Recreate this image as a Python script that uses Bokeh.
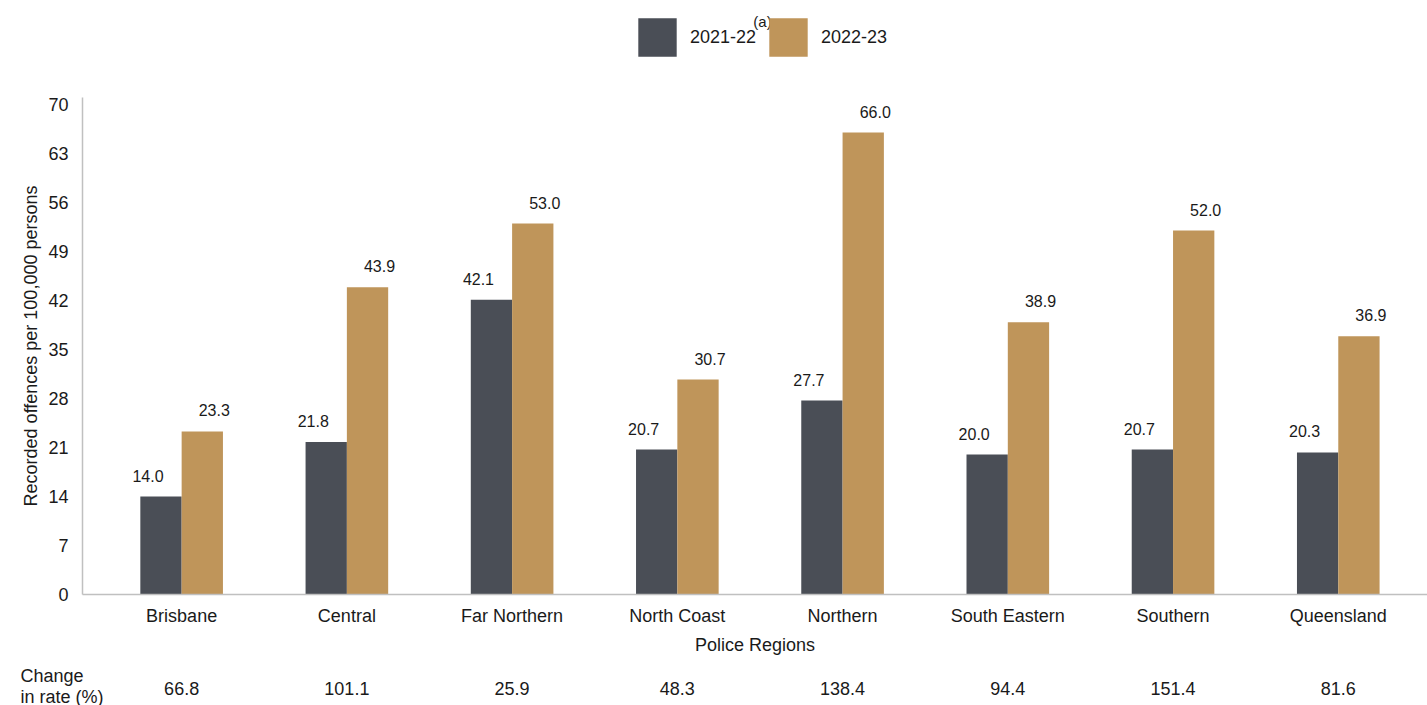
from bokeh.plotting import figure
from bokeh.models import (ColumnDataSource, Range1d, FixedTicker,
                          Legend, LegendItem)
from bokeh.layouts import column
from bokeh.transform import dodge
from bokeh.embed import file_html
from bokeh.resources import INLINE
from bokeh.core.properties import value

regions = ["Brisbane", "Central", "Far Northern", "North Coast", "Northern",
           "South Eastern", "Southern", "Queensland"]
rate_2021_22 = [14.0, 21.8, 42.1, 20.7, 27.7, 20.0, 20.7, 20.3]
rate_2022_23 = [23.3, 43.9, 53.0, 30.7, 66.0, 38.9, 52.0, 36.9]
change_pct = [66.8, 101.1, 25.9, 48.3, 138.4, 94.4, 151.4, 81.6]
y_ticks = [0, 7, 14, 21, 28, 35, 42, 49, 56, 63, 70]
series_names = ["2021-22", "2022-23"]

DARK = "#4a4e56"
GOLD = "#bf955a"
FONT = "Liberation Sans"
TXT = "#1a1a1a"
W = 1427

xs = list(range(len(regions)))
X0, X1 = -0.6, 7.54
LEFT = 82
PPU = (W - LEFT) / (X1 - X0)

src = ColumnDataSource(dict(
    x=xs, a=rate_2021_22, b=rate_2022_23,
    alab=[f"{v:.1f}" for v in rate_2021_22],
    blab=[f"{v:.1f}" for v in rate_2022_23],
))

# ---------------- top strip: legend ----------------
TOP_H = 87
top = figure(width=W, height=TOP_H, output_backend="svg", toolbar_location=None,
             x_range=Range1d(0, W), y_range=Range1d(0, TOP_H),
             min_border=0, outline_line_color=None, frame_align=False)
top.axis.visible = False
top.grid.visible = False
# legend-only renderers (zero-height, outside the visible range)
la = top.vbar(x=[-5000], top=[0], width=0, fill_color=DARK, line_color=None)
lb = top.vbar(x=[-5000], top=[0], width=0, fill_color=GOLD, line_color=None)
legend = Legend(items=[LegendItem(label=series_names[0], renderers=[la]),
                       LegendItem(label=series_names[1], renderers=[lb])],
                orientation="horizontal", location=(633, 26),
                glyph_width=48, glyph_height=48, label_standoff=9, spacing=8,
                padding=5, margin=0, border_line_color=None,
                background_fill_alpha=0,
                label_text_font=FONT, label_text_font_size="18px",
                label_text_color=TXT)
top.add_layout(legend, "center")
top.text(x=[762], y=[TOP_H - 21], text=["(a)"], text_font=value(FONT),
         text_font_size="15px", text_color=TXT, text_align="center",
         text_baseline="middle")

# ---------------- main chart ----------------
MAIN_H = 573
p = figure(width=W, height=MAIN_H, output_backend="svg", toolbar_location=None,
           x_range=Range1d(X0, X1), y_range=Range1d(0, 71),
           min_border_left=LEFT, min_border_right=0, min_border_top=10,
           min_border_bottom=66, outline_line_color=None, frame_align=False)
p.xgrid.visible = False
p.ygrid.visible = False

p.vbar(x=dodge("x", -0.125), top="a", width=0.25, source=src,
       fill_color=DARK, line_color=None)
p.vbar(x=dodge("x", 0.125), top="b", width=0.25, source=src,
       fill_color=GOLD, line_color=None)

p.text(x=dodge("x", -0.125), y="a", text="alab", source=src,
       text_font=value(FONT), text_font_size="16px", text_color=TXT,
       text_align="center", text_baseline="alphabetic", x_offset=-13, y_offset=-21)
p.text(x=dodge("x", 0.125), y="b", text="blab", source=src,
       text_font=value(FONT), text_font_size="16px", text_color=TXT,
       text_align="center", text_baseline="alphabetic", x_offset=12, y_offset=-21)

ax = p.xaxis[0]
ax.ticker = FixedTicker(ticks=xs)
ax.major_label_overrides = {i: r for i, r in enumerate(regions)}
ax.axis_label = "Police Regions"
ya = p.yaxis[0]
ya.ticker = FixedTicker(ticks=y_ticks)
ya.axis_label = "Recorded offences per 100,000 persons"
for a in (ax, ya):
    a.axis_line_color = "#c0c0c0"
    a.axis_line_width = 1.5
    a.major_tick_line_color = None
    a.minor_tick_line_color = None
    a.major_label_text_font = FONT
    a.major_label_text_font_size = "18px"
    a.major_label_text_color = TXT
    a.axis_label_text_font = FONT
    a.axis_label_text_font_size = "18px"
    a.axis_label_text_font_style = "normal"
    a.axis_label_text_color = TXT
ax.major_label_standoff = 5
ax.axis_label_standoff = 6
ya.major_label_standoff = 8
ya.axis_label_standoff = 4

# ---------------- bottom strip: change in rate ----------------
BOT_H = 45
bot = figure(width=W, height=BOT_H, output_backend="svg", toolbar_location=None,
             x_range=Range1d(X0 - LEFT / PPU, X1), y_range=Range1d(0, BOT_H),
             min_border=0, outline_line_color=None, frame_align=False)
bot.axis.visible = False
bot.grid.visible = False
csrc = ColumnDataSource(dict(x=xs, t=[f"{c:.1f}" for c in change_pct]))
bot.text(x="x", y=BOT_H - 28, text="t", source=csrc, text_font=value(FONT),
         text_font_size="18px", text_color=TXT, text_align="center",
         text_baseline="middle")
bot.text(x=[X0 - (LEFT - 20) / PPU], y=[BOT_H - 25.5], text=["Change\nin rate (%)"],
         text_font=value(FONT), text_font_size="18px", text_color=TXT,
         text_align="left", text_baseline="middle", text_line_height=1.05)

layout = column(top, p, bot, spacing=0)
open("out.html", "w").write(file_html(layout, INLINE))
